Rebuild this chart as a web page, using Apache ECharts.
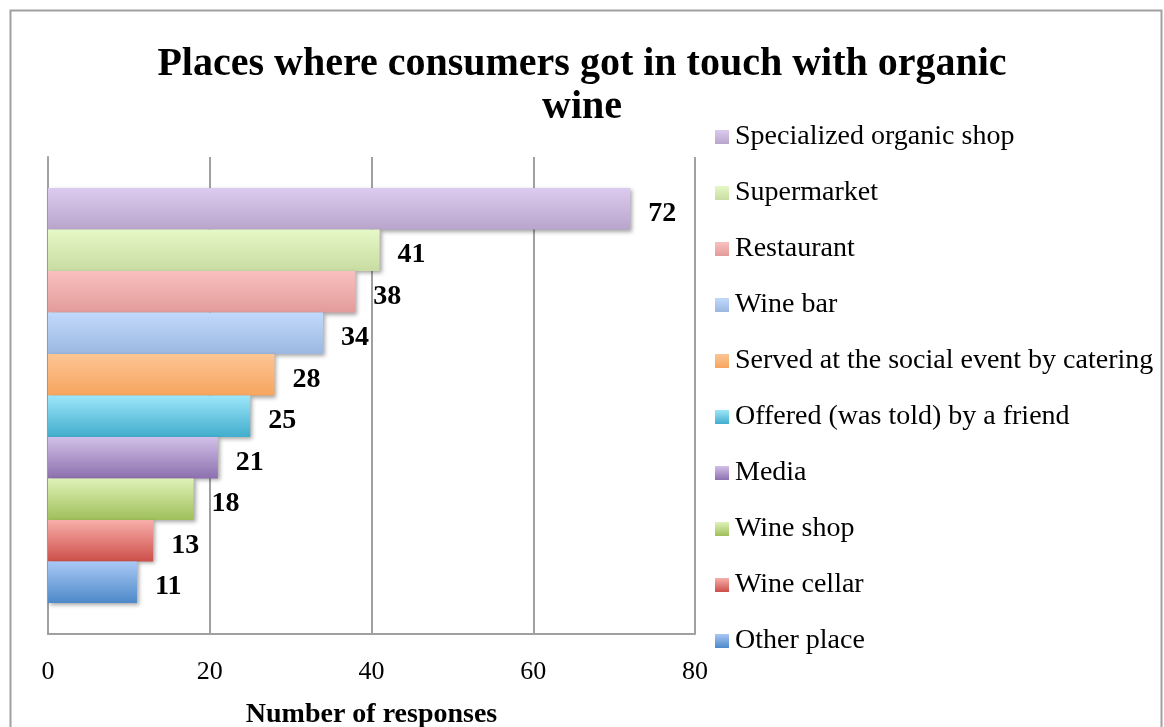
<!DOCTYPE html>
<html>
<head>
<meta charset="utf-8">
<script src="https://cdn.jsdelivr.net/npm/echarts@6/dist/echarts.min.js"></script>
<style>
html,body{margin:0;padding:0;background:#fff;}
#chart{width:1164px;height:727px;}
</style>
</head>
<body>
<div id="chart"></div>
<script>
var places = ['Specialized organic shop','Supermarket','Restaurant','Wine bar','Served at the social event by catering','Offered (was told) by a friend','Media','Wine shop','Wine cellar','Other place'];
var responses = [72, 41, 38, 34, 28, 25, 21, 18, 13, 11];
var categories = ['All'];
var topColors = ['#dccbee','#e6f8c6','#f9c0bf','#c1d9fb','#fdc595','#9de6fa','#d2c0e8','#dff2b8','#f8aeaa','#a9c8f5'];
var bottomColors = ['#b9a5cc','#c9dca2','#e29c9a','#9cb8e0','#f6a55e','#41adcc','#8c70ae','#9fbf5a','#cd4f4a','#4d89c9'];
var serif = '"Liberation Serif", "DejaVu Serif", serif';

var chart = echarts.init(document.getElementById('chart'));
var series = places.map(function(name, i){
  return {
    name: name,
    type: 'bar',
    data: [responses[i]],
    barGap: '0%',
    barCategoryGap: '13%',
    itemStyle: {
      color: new echarts.graphic.LinearGradient(0,0,0,1,[{offset:0,color:topColors[i]},{offset:1,color:bottomColors[i]}]),
      shadowColor: 'rgba(0,0,0,0.35)',
      shadowBlur: 4,
      shadowOffsetX: 2,
      shadowOffsetY: 2
    },
    label: {
      show: true,
      position: 'right',
      distance: 18,
      offset: [0, 5],
      fontFamily: serif,
      fontWeight: 'bold',
      fontSize: 28,
      color: '#000'
    }
  };
});

chart.setOption({
  animation: false,
  backgroundColor: '#fff',
  title: {
    text: 'Places where consumers got in touch with organic\nwine',
    left: 'center',
    top: 38,
    textStyle: {
      fontFamily: serif,
      fontWeight: 'bold',
      fontSize: 40,
      lineHeight: 43,
      color: '#000'
    }
  },
  legend: {
    orient: 'vertical',
    left: 715,
    top: 123,
    padding: 0,
    icon: 'rect',
    itemWidth: 14,
    itemHeight: 14,
    itemGap: 28,
    textStyle: {fontFamily: serif, fontSize: 28, lineHeight: 28, color: '#000', padding:[0,0,0,1]},
    data: places
  },
  graphic: [{
    type: 'rect',
    shape: {x: 10.5, y: 10.5, width: 1151, height: 740},
    style: {fill: 'none', stroke: '#a0a0a0', lineWidth: 2},
    silent: true
  }],
  grid: {left: 48, right: 469, top: 157, bottom: 93, outerBoundsMode: 'none', containLabel: false},
  xAxis: {
    type: 'value',
    min: 0, max: 80, interval: 20,
    name: 'Number of responses',
    nameLocation: 'middle',
    nameGap: 67,
    nameTextStyle: {fontFamily: serif, fontWeight: 'bold', fontSize: 28, color: '#000'},
    axisLine: {show: true, lineStyle: {color: '#a0a0a0', width: 2}},
    axisTick: {show: false},
    axisLabel: {fontFamily: serif, fontSize: 26, color: '#000', margin: 25},
    splitLine: {show: true, lineStyle: {color: '#a0a0a0', width: 2}}
  },
  yAxis: {
    type: 'category',
    data: categories,
    inverse: true,
    axisLine: {show: true, lineStyle: {color: '#a0a0a0', width: 2}},
    axisTick: {show: false},
    axisLabel: {show: false}
  },
  series: series
});
</script>
</body>
</html>
